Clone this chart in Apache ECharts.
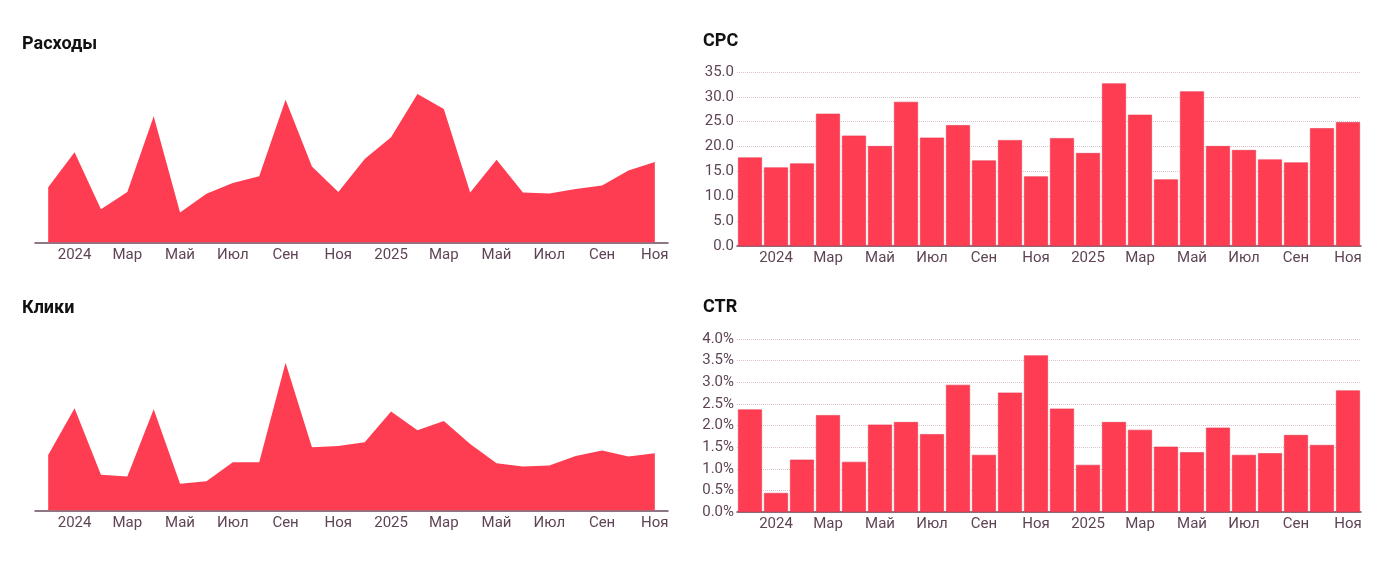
<!DOCTYPE html>
<html>
<head>
<meta charset="utf-8">
<script src="https://cdn.jsdelivr.net/npm/echarts@6/dist/echarts.min.js"></script>
<style>
html,body{margin:0;padding:0;background:#fff;}
#chart{width:1389px;height:567px;}
</style>
</head>
<body>
<div id="chart"></div>
<script>
// Months Dec 2023 .. Nov 2025
const categories = ['2023-12','2024-01','2024-02','2024-03','2024-04','2024-05','2024-06','2024-07','2024-08','2024-09','2024-10','2024-11','2024-12','2025-01','2025-02','2025-03','2025-04','2025-05','2025-06','2025-07','2025-08','2025-09','2025-10','2025-11'];
const tickLabels = ['Дек','2024','Фев','Мар','Апр','Май','Июн','Июл','Авг','Сен','Окт','Ноя','Дек','2025','Фев','Мар','Апр','Май','Июн','Июл','Авг','Сен','Окт','Ноя'];
const spend = [29500,48200,17800,26900,67300,16000,26000,31700,35400,76200,40600,26900,44500,56200,79200,71200,26700,44100,26700,26200,28500,30400,38400,42900];
const clicks = [1670,3070,1070,1020,3040,800,880,1450,1450,4440,1900,1940,2050,2970,2410,2690,2000,1420,1320,1350,1640,1800,1620,1720];
const cpc = [17.8,15.8,16.6,26.6,22.2,20.1,29.0,21.8,24.3,17.2,21.3,14.0,21.7,18.7,32.7,26.4,13.4,31.1,20.1,19.3,17.4,16.8,23.7,24.9];
const ctr = [2.37,0.44,1.21,2.24,1.16,2.02,2.08,1.80,2.94,1.32,2.76,3.62,2.39,1.09,2.08,1.90,1.51,1.38,1.95,1.32,1.36,1.78,1.55,2.81];
const titles = ['Расходы','Клики','CPC','CTR'];

const RED = '#ff3d52';
const LABEL = '#5f4456';
const AXIS = '#6a4a5c';
const GRIDC = '#d9c3cb';
const FONT = 'Roboto, "Noto Sans", sans-serif';

const chart = echarts.init(document.getElementById('chart'));
const grids = [
  {left:35, top:55, width:633, height:187.5},
  {left:35, top:344, width:633, height:166.5},
  {left:737, top:72, width:624, height:174},
  {left:737, top:339, width:624, height:173}
];
function xAxis(i){
  return {
    type:'category', gridIndex:i, data:tickLabels, boundaryGap:true,
    axisTick:{show:false},
    axisLine:{show:true, lineStyle:{color:AXIS, width:1.5}},
    axisLabel:{interval:(idx)=>idx%2===1, color:LABEL, fontFamily:FONT, fontSize:15, margin:5}
  };
}
const tStyle = {fontSize:18, fontWeight:'bold', color:'#111', fontFamily:FONT};
const option = {
  animation:false,
  textStyle:{fontFamily:FONT},
  title:[
    {text:titles[0], left:22, top:35, padding:0, textStyle:tStyle},
    {text:titles[1], left:22, top:299, padding:0, textStyle:tStyle},
    {text:titles[2], left:703, top:32, padding:0, textStyle:tStyle},
    {text:titles[3], left:703, top:298, padding:0, textStyle:tStyle}
  ],
  grid:grids,
  xAxis:[xAxis(0),xAxis(1),xAxis(2),xAxis(3)],
  yAxis:[
    {type:'value', gridIndex:0, min:0, max:100000, show:false},
    {type:'value', gridIndex:1, min:0, max:5000, show:false},
    {type:'value', gridIndex:2, min:0, max:35, interval:5,
      axisLine:{show:false}, axisTick:{show:false},
      splitLine:{lineStyle:{color:GRIDC, type:'dotted', width:1}},
      axisLabel:{color:LABEL, fontFamily:FONT, fontSize:15, margin:3, formatter:v=>v.toFixed(1)}},
    {type:'value', gridIndex:3, min:0, max:4, interval:0.5,
      axisLine:{show:false}, axisTick:{show:false},
      splitLine:{lineStyle:{color:GRIDC, type:'dotted', width:1}},
      axisLabel:{color:LABEL, fontFamily:FONT, fontSize:15, margin:3, formatter:v=>v.toFixed(1)+'%'}}
  ],
  series:[
    {type:'line', xAxisIndex:0, yAxisIndex:0, data:spend, symbol:'none', lineStyle:{width:0}, areaStyle:{color:RED, opacity:1}, z:1},
    {type:'line', xAxisIndex:1, yAxisIndex:1, data:clicks, symbol:'none', lineStyle:{width:0}, areaStyle:{color:RED, opacity:1}, z:1},
    {type:'bar', xAxisIndex:2, yAxisIndex:2, data:cpc, barCategoryGap:'8%', itemStyle:{color:RED, borderColor:'#e8344a', borderWidth:0.6}},
    {type:'bar', xAxisIndex:3, yAxisIndex:3, data:ctr, barCategoryGap:'8%', itemStyle:{color:RED, borderColor:'#e8344a', borderWidth:0.6}}
  ]
};
chart.setOption(option);
</script>
</body>
</html>
